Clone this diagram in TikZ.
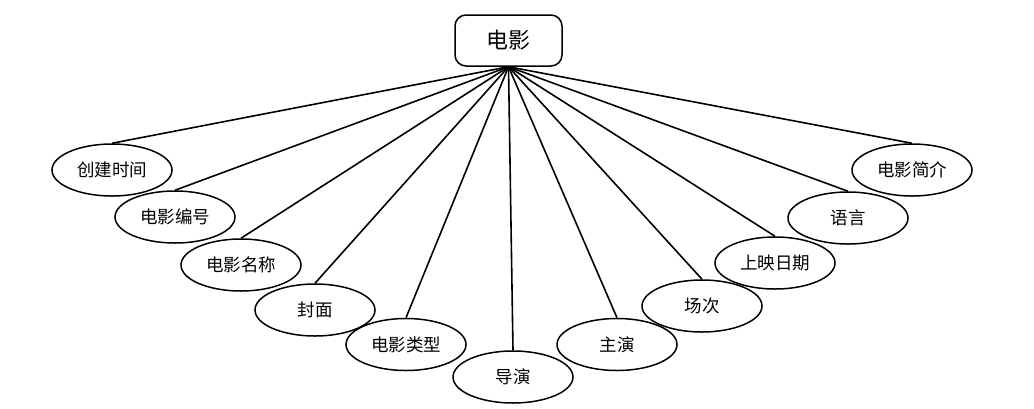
\documentclass[tikz,border=0pt]{standalone}
\usepackage{fontspec}
\newfontfamily\cjk{Noto Sans CJK SC}
\usetikzlibrary{shapes.geometric}
\begin{document}
\begin{tikzpicture}[x=1pt,y=-1pt,
  attr/.style={draw=black,line width=1.5pt,ellipse,minimum width=120pt,minimum height=52pt,inner sep=0pt,font=\cjk\fontsize{17.5pt}{19pt}\selectfont},
  entity/.style={draw=black,line width=1.5pt,rectangle,rounded corners=11pt,minimum width=107pt,minimum height=51pt,inner sep=0pt,font=\cjk\fontsize{22pt}{25pt}\selectfont},
  link/.style={draw=black,line width=1.6pt}]
\useasboundingbox (0,0) rectangle (1034,408);
\node[entity] (root) at (508.5,40.5) {电影};
\node[attr] (a1) at (112,170) {创建时间};
\node[attr] (a2) at (175,217) {电影编号};
\node[attr] (a3) at (241,265) {电影名称};
\node[attr] (a4) at (315,310) {封面};
\node[attr] (a5) at (406,344.5) {电影类型};
\node[attr] (a6) at (513,377) {导演};
\node[attr] (a7) at (617,344.5) {主演};
\node[attr] (a8) at (702,306) {场次};
\node[attr] (a9) at (775,263) {上映日期};
\node[attr] (a10) at (848,218) {语言};
\node[attr] (a11) at (912,170) {电影简介};
\foreach \n in {a1,a2,a3,a4,a5,a6,a7,a8,a9,a10,a11}
  \draw[link] (root.south) -- (\n.north);
\end{tikzpicture}
\end{document}
